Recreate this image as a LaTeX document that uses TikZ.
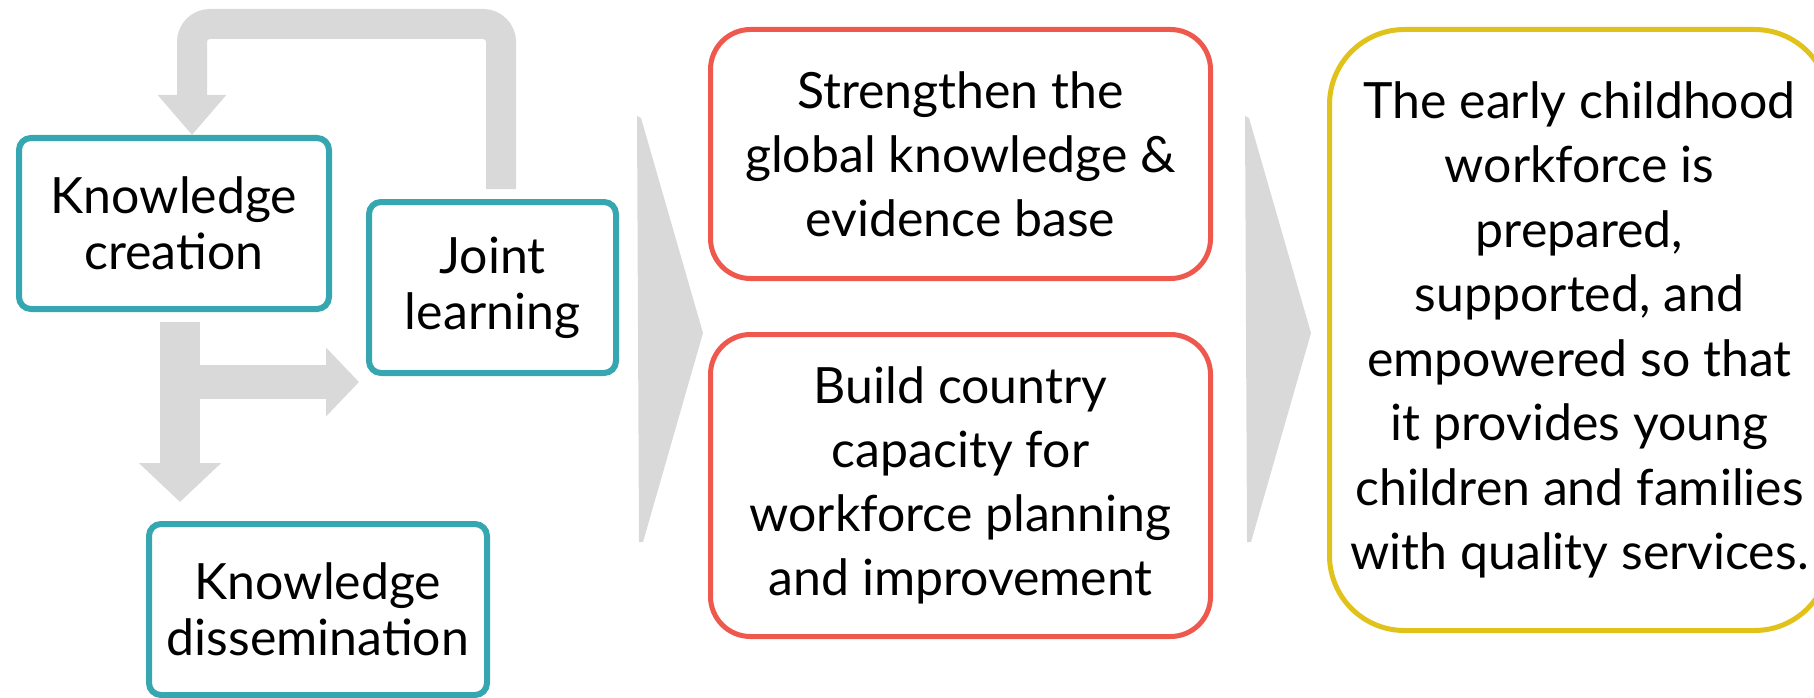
\documentclass[tikz,border=0pt]{standalone}
\usepackage{fontspec}
\setmainfont{Lato}
\usetikzlibrary{arrows.meta}

\definecolor{tealline}{RGB}{54,167,176}
\definecolor{redline}{RGB}{239,88,76}
\definecolor{goldline}{RGB}{224,194,26}
\definecolor{arrowgrey}{RGB}{217,217,217}

\begin{document}
\begin{tikzpicture}[x=1pt, y=-1pt,
  box/.style={draw=tealline, line width=6pt, rounded corners=12pt, align=center, inner sep=0pt, font=\fontsize{50}{56}\selectfont},
  aim/.style={draw=redline, line width=5pt, rounded corners=40pt, align=center, inner sep=0pt, minimum width=500pt, font=\fontsize{50}{64}\selectfont},
  result/.style={draw=goldline, line width=5pt, rounded corners=75pt, align=center, inner sep=0pt, minimum width=500pt, font=\fontsize{50}{64.5}\selectfont},
  flow/.style={draw=arrowgrey},
  chevron/.style={fill=arrowgrey}];

\clip (0, 0) rectangle (1814, 698);

\node (creation) at (174, 223.5)  [box, minimum width=310pt, minimum height=171pt] {Knowledge\\creation};
\node (joint)    at (492.5, 287.5) [box, minimum width=247pt, minimum height=171pt] {Joint\\learning};
\node (dissem)   at (318, 609.5)   [box, minimum width=338pt, minimum height=171pt] {Knowledge\\dissemination};

\node (evidence) at (960.5, 154)   [aim, minimum height=249pt] {Strengthen the\\global knowledge \&\\evidence base};
\node (capacity) at (960.5, 485.5) [aim, minimum height=302pt] {Build country\\capacity for\\workforce planning\\and improvement};

\node (workforce) at (1579.5, 330) [result, minimum height=601pt] {The early childhood\\workforce is\\prepared,\\supported, and\\empowered so that\\it provides young\\children and families\\with quality services.};

\coordinate (split) at (180, 382);
\coordinate (loopR) at (501, 24);
\coordinate (loopL) at (192, 24);

\draw[flow, line width=40pt, shorten <=10pt, shorten >=19pt, -{Triangle[length=39pt, width=80pt]}] (creation.south -| split) -- (dissem.north -| split);
\draw[flow, line width=34pt, shorten >=7pt, -{Triangle[length=33pt, width=67pt]}] (split) -- (split -| joint.west);
\draw[flow, line width=30pt, rounded corners=18pt, shorten <=10pt, -{Triangle[length=40pt, width=66pt]}] (joint.north -| loopR) -- (loopR) -- (loopL) -- (creation.north -| loopL);

\fill[chevron] (637, 116) -- (641, 118) -- (703, 333) -- (643, 542) -- (639, 542) -- cycle;
\fill[chevron] (1245, 116) -- (1249, 118) -- (1311, 333) -- (1251, 542) -- (1247, 542) -- cycle;

\end{tikzpicture}
\end{document}
